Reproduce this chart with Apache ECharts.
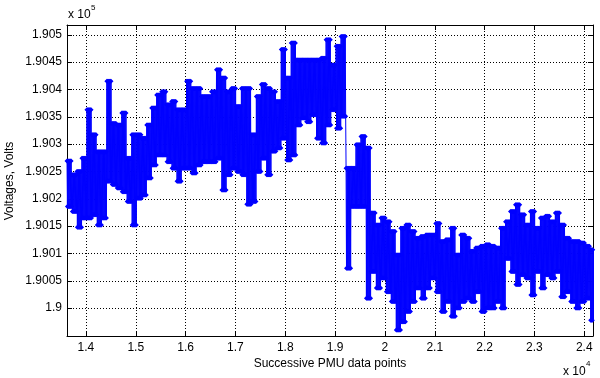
<!DOCTYPE html>
<html>
<head>
<meta charset="utf-8">
<script src="https://cdn.jsdelivr.net/npm/echarts@6/dist/echarts.min.js"></script>
<style>
  html, body { margin: 0; padding: 0; background: #fff; }
  #chart { width: 600px; height: 378px; }
</style>
</head>
<body>
<div id="chart"></div>
<script>
// samples every 100 points, starting at the first PMU index
const pointStart = 13620;
const pointStep = 100;
// upper / lower edge of the voltage band (Volts) read at each sample
const upperVolts = [
  190269, 190244, 190250, 190274, 190363, 190317, 190286, 190286, 190415, 190338,
  190335, 190357, 190274, 190317, 190317, 190311, 190335, 190366, 190390, 190396,
  190372, 190378, 190363, 190363, 190415, 190402, 190402, 190387, 190387, 190396,
  190436, 190421, 190396, 190402, 190369, 190402, 190402, 190317, 190387, 190409,
  190402, 190396, 190378, 190473, 190421, 190485, 190454, 190454, 190454, 190454,
  190454, 190457, 190491, 190445, 190479, 190497, 190256, 190256, 190299, 190314,
  190293, 190174, 190152, 190165, 190158, 190140, 190097, 190146, 190152, 190140,
  190128, 190131, 190134, 190134, 190155, 190122, 190125, 190146, 190097, 190134,
  190128, 190104, 190110, 190113, 190116, 190113, 190110, 190146, 190158, 190177,
  190189, 190171, 190152, 190177, 190146, 190165, 190168, 190158, 190174, 190152,
  190128, 190122, 190122, 190119, 190113, 190107
];
const lowerVolts = [
  190186, 190177, 190148, 190165, 190165, 190171, 190152, 190165, 190232, 190226,
  190220, 190213, 190195, 190152, 190201, 190207, 190238, 190262, 190280, 190280,
  190268, 190256, 190232, 190256, 190256, 190247, 190262, 190268, 190268, 190268,
  190274, 190216, 190244, 190256, 190250, 190244, 190190, 190195, 190250, 190274,
  190244, 190287, 190293, 190311, 190271, 190280, 190335, 190348, 190341, 190354,
  190311, 190302, 190335, 190363, 190329, 190351, 190073, 190186, 190186, 190186,
  190018, 190067, 190037, 190055, 190030, 190012, 189960, 189975, 189994, 190012,
  190037, 190018, 190037, 190055, 190030, 189994, 190012, 189985, 190000, 190012,
  190018, 190012, 190030, 189994, 190000, 190000, 190012, 190000, 190091, 190067,
  190043, 190061, 190055, 190024, 190067, 190037, 190061, 190055, 190067, 190021,
  190030, 190012, 190000, 190012, 190018, 189978
];
const xTicks = [14000, 15000, 16000, 17000, 18000, 19000, 20000, 21000, 22000, 23000, 24000];
const yTicks = [190000, 190050, 190100, 190150, 190200, 190250, 190300, 190350, 190400, 190450, 190500];

const xMin = 13620, xMax = 24175;
const yMin = 189949, yMax = 190518;

// the signal swings between the band edges many times inside each sample window
const swingsPerStep = 6;
const points = [];
upperVolts.forEach((hi, i) => {
  const x0 = pointStart + i * pointStep;
  const dx = pointStep / swingsPerStep;
  for (let k = 0; k < swingsPerStep; k++) {
    points.push([x0 + k * dx, hi]);
    points.push([x0 + k * dx + dx / 2, lowerVolts[i]]);
  }
});

const font = 'Liberation Sans, Arial, Helvetica, sans-serif';
const black = '#000';

function fmtY(v) {
  return parseFloat((v / 1e5).toFixed(5)).toString();
}
function fmtX(v) {
  return parseFloat((v / 1e4).toFixed(4)).toString();
}

const chart = echarts.init(document.getElementById('chart'));
chart.setOption({
  animation: false,
  backgroundColor: '#fff',
  grid: { left: 67, right: 7, top: 25, bottom: 42 },
  xAxis: [
    {
      type: 'value', min: xMin, max: xMax, position: 'bottom',
      axisLine: { lineStyle: { color: black, width: 1 } },
      axisTick: { inside: true, length: 5, customValues: xTicks, lineStyle: { color: black } },
      axisLabel: { customValues: xTicks, formatter: fmtX, color: black, fontSize: 12, fontFamily: font, margin: 6 },
      splitLine: { show: true, lineStyle: { color: black, type: [1, 2], width: 1 } }
    },
    {
      type: 'value', min: xMin, max: xMax, position: 'top',
      axisLine: { show: true, lineStyle: { color: black, width: 1 } },
      axisTick: { inside: true, length: 5, customValues: xTicks, lineStyle: { color: black } },
      axisLabel: { show: false },
      splitLine: { show: false }
    }
  ],
  yAxis: [
    {
      type: 'value', min: yMin, max: yMax, position: 'left',
      axisLine: { show: true, lineStyle: { color: black, width: 1 } },
      axisTick: { show: true, inside: true, length: 5, customValues: yTicks, lineStyle: { color: black } },
      axisLabel: { customValues: yTicks, formatter: fmtY, color: black, fontSize: 12, fontFamily: font, margin: 5 },
      splitLine: { show: true, lineStyle: { color: black, type: [1, 2], width: 1 } }
    },
    {
      type: 'value', min: yMin, max: yMax, position: 'right',
      axisLine: { show: true, lineStyle: { color: black, width: 1 } },
      axisTick: { show: true, inside: true, length: 5, customValues: yTicks, lineStyle: { color: black } },
      axisLabel: { show: false },
      splitLine: { show: false }
    }
  ],
  series: [
    {
      type: 'line',
      xAxisIndex: 0,
      yAxisIndex: 0,
      data: points,
      symbol: 'diamond',
      symbolSize: 5,
      showAllSymbol: true,
      lineStyle: { color: '#0000ff', width: 1 },
      itemStyle: { color: '#0000ff' },
      clip: true
    }
  ],
  graphic: [
    { type: 'text', x: 68, y: 15, style: { text: 'x 10', font: '12px ' + font, fill: black, textVerticalAlign: 'middle' } },
    { type: 'text', x: 91, y: 8, style: { text: '5', font: '8px ' + font, fill: black, textVerticalAlign: 'middle' } },
    { type: 'text', x: 563, y: 372, style: { text: 'x 10', font: '12px ' + font, fill: black, textVerticalAlign: 'middle' } },
    { type: 'text', x: 586, y: 364, style: { text: '4', font: '8px ' + font, fill: black, textVerticalAlign: 'middle' } },
    { type: 'text', x: 330, y: 364, style: { text: 'Successive PMU data points', font: '12px ' + font, fill: black, textAlign: 'center', textVerticalAlign: 'middle' } },
    { type: 'text', x: 10, y: 181, rotation: Math.PI / 2, style: { text: 'Voltages, Volts', font: '12px ' + font, fill: black, textAlign: 'center', textVerticalAlign: 'middle' } }
  ]
});
</script>
</body>
</html>
